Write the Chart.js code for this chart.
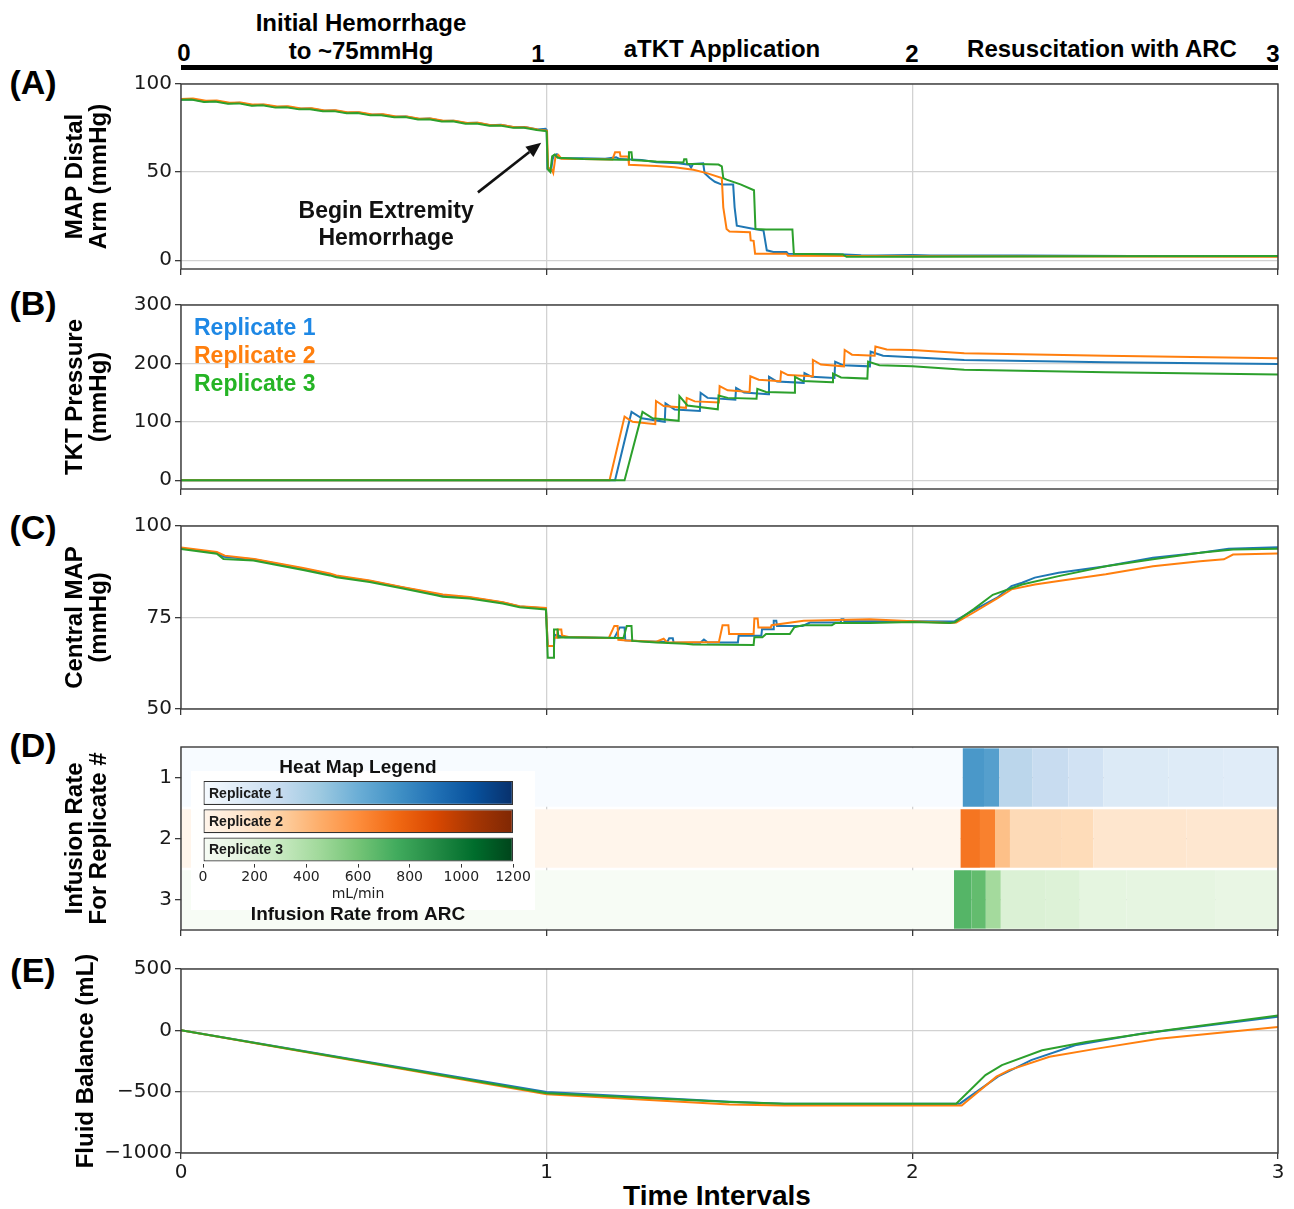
<!DOCTYPE html>
<html>
<head>
<meta charset="utf-8">
<script src="https://cdn.jsdelivr.net/npm/chart.js@4.4.1/dist/chart.umd.min.js"></script>
<style>
  html, body { margin: 0; padding: 0; background: #fff; }
  #page { position: relative; width: 1294px; height: 1209px; overflow: hidden; background: #fff;
          font-family: "Liberation Sans", Arial, sans-serif; }
  #page canvas { position: absolute; }
  .lbl { position: absolute; font-weight: bold; color: #000; white-space: nowrap; line-height: 1;
         transform: translate(-50%, -50%); }
  .bar { position: absolute; background: #000; }
</style>
</head>
<body>
<div id="page">
  <!-- phase banner -->
  <div class="bar" style="left:181px; top:65px; width:1097px; height:5px;"></div>
  <div class="lbl" style="left:361px; top:23px; font-size:24px;">Initial Hemorrhage</div>
  <div class="lbl" style="left:361px; top:51px; font-size:24px;">to ~75mmHg</div>
  <div class="lbl" style="left:722px; top:49px; font-size:24px;">aTKT Application</div>
  <div class="lbl" style="left:1102px; top:49px; font-size:24px;">Resuscitation with ARC</div>
  <div class="lbl" style="left:184px; top:53px; font-size:24px;">0</div>
  <div class="lbl" style="left:538px; top:54px; font-size:24px;">1</div>
  <div class="lbl" style="left:912px; top:54px; font-size:24px;">2</div>
  <div class="lbl" style="left:1273px; top:54px; font-size:24px;">3</div>
  <!-- panel letters -->
  <div class="lbl" style="left:33px; top:82px; font-size:34px;">(A)</div>
  <div class="lbl" style="left:33px; top:303px; font-size:34px;">(B)</div>
  <div class="lbl" style="left:33px; top:527px; font-size:34px;">(C)</div>
  <div class="lbl" style="left:33px; top:745px; font-size:34px;">(D)</div>
  <div class="lbl" style="left:33px; top:970px; font-size:34px;">(E)</div>
  <!-- shared time axis title -->
  <div class="lbl" style="left:717px; top:1196px; font-size:28px;">Time Intervals</div>
</div>
<script>
// ---------------- values ----------------
const timeTicks = [0, 1, 2, 3];
const mapDistalTicks = [0, 50, 100];
const tktTicks = [0, 100, 200, 300];
const centralTicks = [50, 75, 100];
const fluidTicks = [-1000, -500, 0, 500];
const replicateRows = ['1', '2', '3'];
const replicateNames = ['Replicate 1', 'Replicate 2', 'Replicate 3'];
const colorbarTicks = [0, 200, 400, 600, 800, 1000, 1200];

// (A) MAP distal arm, mmHg : [time interval, value]
const mapDistalRep1 = [[0,91.2],[0.03,91.4],[0.065,90.1],[0.095,90.3],[0.13,89.1],[0.16,89.3],[0.195,88.0],[0.225,88.2],[0.26,86.9],[0.29,87.1],[0.325,85.9],[0.355,86.1],[0.39,84.8],[0.42,85.0],[0.455,83.7],[0.485,83.8],[0.52,82.5],[0.55,82.7],[0.585,81.4],[0.615,81.5],[0.65,80.2],[0.68,80.4],[0.715,79.0],[0.745,79.2],[0.78,77.8],[0.81,78.0],[0.845,76.6],[0.875,76.8],[0.91,75.4],[0.94,75.6],[0.975,74.2],[0.997,74.6],
  [1.0,74.0],[1.002,52.0],[1.012,50.8],[1.016,57.0],[1.02,59.5],[1.028,60.2],[1.036,57.8],[1.1,57.9],[1.16,57.6],[1.19,58.4],[1.2,57.4],[1.26,56.8],[1.3,55.6],[1.36,55.0],[1.39,54.2],[1.395,52.5],[1.4,54.6],[1.428,55.0],[1.432,49.4],[1.446,46.6],[1.46,44.5],[1.479,42.9],[1.51,42.9],[1.514,30.0],[1.52,19.6],[1.56,18.0],[1.593,16.8],[1.602,5.6],[1.62,4.7],[1.656,4.7],[1.66,3.7],[1.8,3.4],[1.86,2.8],[1.9,2.6],[2.0,2.9],[2.05,2.7],[2.3,2.6],[2.6,2.4],[3.0,2.3]];
const mapDistalRep2 = [[0,91.5],[0.033,91.7],[0.068,90.5],[0.098,90.6],[0.133,89.4],[0.163,89.5],[0.198,88.3],[0.228,88.4],[0.263,87.2],[0.293,87.3],[0.328,86.1],[0.358,86.2],[0.393,85.0],[0.423,85.1],[0.458,83.9],[0.488,84.0],[0.523,82.7],[0.553,82.8],[0.588,81.5],[0.618,81.6],[0.653,80.3],[0.683,80.4],[0.718,79.1],[0.748,79.2],[0.783,77.9],[0.813,78.0],[0.848,76.6],[0.878,76.7],[0.913,75.4],[0.943,75.4],[0.978,74.0],[0.998,73.6],
  [1.001,73.4],[1.004,52.5],[1.014,51.5],[1.018,49.5],[1.024,58.5],[1.032,59.8],[1.04,57.6],[1.1,57.4],[1.18,57.2],[1.187,61.2],[1.2,61.2],[1.202,58.8],[1.223,58.8],[1.225,54.1],[1.3,53.4],[1.35,52.8],[1.401,51.3],[1.438,49.4],[1.479,46.6],[1.483,30.0],[1.492,17.7],[1.5,16.3],[1.556,15.9],[1.558,11.2],[1.566,11.0],[1.57,3.7],[1.656,3.6],[1.66,2.5],[1.86,2.4],[2.0,2.2],[2.5,2.1],[3.0,2.0]];
const mapDistalRep3 = [[0,91.0],[0.028,91.2],[0.063,89.8],[0.093,90.0],[0.128,88.8],[0.158,89.0],[0.193,87.7],[0.223,87.9],[0.258,86.6],[0.288,86.8],[0.323,85.6],[0.353,85.7],[0.388,84.5],[0.418,84.6],[0.453,83.4],[0.483,83.5],[0.518,82.2],[0.548,82.3],[0.583,81.1],[0.613,81.2],[0.648,79.9],[0.678,80.0],[0.713,78.7],[0.743,78.8],[0.778,77.5],[0.808,77.6],[0.843,76.3],[0.873,76.4],[0.908,75.1],[0.938,75.2],[0.973,73.9],[0.996,73.3],
  [1.0,73.0],[1.003,51.5],[1.01,50.0],[1.015,59.0],[1.022,60.0],[1.03,58.2],[1.1,57.5],[1.2,57.0],[1.223,57.0],[1.225,61.2],[1.232,61.2],[1.234,56.9],[1.3,56.0],[1.374,55.5],[1.376,57.3],[1.382,57.3],[1.384,54.7],[1.47,54.3],[1.479,53.2],[1.483,46.6],[1.492,45.7],[1.53,43.0],[1.567,39.7],[1.571,17.7],[1.6,17.4],[1.672,17.4],[1.676,3.7],[1.81,3.3],[1.82,1.9],[1.9,1.9],[2.0,2.0],[2.5,2.3],[3.0,2.4]];

// (B) TKT pressure, mmHg
const tktRep1 = [[0,0],[1.187,0],[1.232,117],[1.26,106],[1.323,100],[1.325,131.6],[1.35,121],[1.419,118.6],[1.421,149.7],[1.44,141],[1.516,138],[1.518,158],[1.54,150],[1.606,147],[1.608,177],[1.63,169],[1.703,166.7],[1.705,183.6],[1.725,177],[1.787,175],[1.789,203],[1.81,197],[1.884,195],[1.886,220],[1.92,213],[2.0,210.7],[2.142,206],[2.529,202],[3.0,199]];
const tktRep2 = [[0,0],[1.172,0],[1.213,109],[1.235,100],[1.297,96],[1.299,135.6],[1.32,127],[1.381,124],[1.383,141],[1.405,135],[1.471,133],[1.473,161],[1.495,154],[1.555,151],[1.557,178],[1.58,172],[1.639,169.5],[1.641,186],[1.66,180],[1.726,178],[1.728,206],[1.75,198],[1.813,195],[1.815,223],[1.835,215],[1.897,213],[1.899,229],[1.93,224],[2.0,223],[2.142,217.5],[2.529,213],[3.0,209]];
const tktRep3 = [[0,0],[1.213,0],[1.262,117],[1.29,106],[1.361,101.7],[1.363,144],[1.385,128],[1.468,121.5],[1.47,145],[1.495,141],[1.574,139.5],[1.576,156.5],[1.6,151],[1.677,149.7],[1.679,177],[1.7,170],[1.781,167.8],[1.783,182.5],[1.805,176],[1.877,174],[1.879,203],[1.91,197],[2.0,195],[2.142,189],[2.529,185],[3.0,181]];

// (C) central MAP, mmHg
const centralRep1 = [[0,93.9],[0.098,92.7],[0.116,91.6],[0.198,90.9],[0.334,88.3],[0.407,86.8],[0.425,86.3],[0.516,85.0],[0.607,83.2],[0.698,81.4],[0.716,81.1],[0.789,80.5],[0.88,79.1],[0.926,78.0],[0.998,77.5],
  [1.003,67.2],[1.02,67.2],[1.022,70.3],[1.05,69.6],[1.185,69.4],[1.2,72.3],[1.213,72.3],[1.215,68.8],[1.26,68.5],[1.33,68.3],[1.335,69.3],[1.345,69.3],[1.347,68.2],[1.42,68.1],[1.43,69.0],[1.44,68.2],[1.523,68.2],[1.525,70.0],[1.587,70.0],[1.589,71.8],[1.619,71.8],[1.621,74.1],[1.628,74.1],[1.63,72.7],[1.7,72.7],[1.72,73.6],[1.804,73.6],[1.806,74.5],[1.812,74.5],[1.814,74.0],[2.0,74.0],[2.1,73.9],[2.116,74.0],[2.168,77.0],[2.232,80.4],[2.271,83.6],[2.3,84.5],[2.335,85.9],[2.4,87.2],[2.529,89.0],[2.658,91.3],[2.787,92.7],[2.865,93.8],[3.0,94.2]];
const centralRep2 = [[0,94.1],[0.098,92.9],[0.12,91.9],[0.2,91.0],[0.334,88.5],[0.407,87.0],[0.425,86.5],[0.516,85.1],[0.607,83.3],[0.698,81.6],[0.716,81.3],[0.789,80.6],[0.88,79.2],[0.926,78.1],[0.998,77.6],
  [1.003,67.2],[1.018,67.2],[1.02,69.5],[1.028,69.5],[1.03,71.7],[1.04,71.7],[1.042,70.1],[1.06,69.7],[1.17,69.4],[1.185,72.7],[1.194,72.7],[1.196,68.9],[1.219,68.7],[1.3,68.4],[1.32,69.2],[1.33,68.2],[1.471,68.3],[1.481,72.9],[1.497,72.9],[1.499,70.5],[1.566,70.5],[1.568,74.7],[1.577,74.7],[1.579,72.3],[1.613,72.3],[1.615,72.9],[1.703,74.1],[1.884,74.5],[2.0,74.0],[2.103,73.5],[2.12,73.6],[2.17,76.5],[2.232,80.2],[2.271,82.7],[2.335,84.0],[2.4,85.0],[2.529,86.8],[2.658,89.0],[2.787,90.4],[2.852,90.9],[2.877,92.2],[3.0,92.5]];
const centralRep3 = [[0,93.7],[0.098,92.4],[0.116,91.0],[0.198,90.6],[0.334,88.0],[0.407,86.5],[0.425,86.0],[0.516,84.7],[0.607,82.9],[0.698,81.1],[0.716,80.7],[0.789,80.2],[0.88,78.8],[0.926,77.8],[0.998,77.2],
  [1.003,64.0],[1.018,64.0],[1.02,71.7],[1.03,71.7],[1.032,69.5],[1.05,69.6],[1.21,69.4],[1.219,72.7],[1.232,72.7],[1.234,68.6],[1.3,68.2],[1.38,67.8],[1.4,67.6],[1.566,67.5],[1.568,69.6],[1.59,69.6],[1.6,70.5],[1.665,70.5],[1.677,72.3],[1.7,72.9],[1.78,72.9],[1.79,73.5],[1.884,73.5],[2.0,73.8],[2.103,73.5],[2.116,73.7],[2.168,77.3],[2.22,81.2],[2.3,84.0],[2.4,86.3],[2.529,89.0],[2.658,90.9],[2.787,92.7],[2.877,93.6],[3.0,93.8]];

// (D) infusion rate from ARC, mL/min : [start, end, rate]
const infusionRep1 = [[0,2.138,0],[2.138,2.196,720],[2.196,2.238,680],[2.238,2.329,340],[2.329,2.427,290],[2.427,2.523,230],[2.523,2.7,160],[2.7,2.85,150],[2.85,3.0,140]];
const infusionRep2 = [[0,2.132,0],[2.132,2.185,700],[2.185,2.226,650],[2.226,2.267,370],[2.267,2.409,230],[2.409,2.495,220],[2.495,2.75,150],[2.75,3.0,140]];
const infusionRep3 = [[0,2.114,0],[2.114,2.162,690],[2.162,2.201,650],[2.201,2.242,440],[2.242,2.365,200],[2.365,2.458,190],[2.458,2.585,150],[2.585,2.83,140],[2.83,3.0,120]];

// (E) fluid balance, mL
const fluidRep1 = [[0,0],[0.5,-252],[1.0,-502],[1.5,-582],[1.65,-598],[2.13,-598],[2.235,-375],[2.27,-324],[2.325,-243],[2.445,-122],[2.625,-27],[3.0,110]];
const fluidRep2 = [[0,0],[0.5,-260],[1.0,-522],[1.5,-605],[1.65,-612],[2.135,-612],[2.23,-378],[2.265,-324],[2.375,-216],[2.505,-149],[2.675,-68],[3.0,27]];
const fluidRep3 = [[0,0],[0.5,-256],[1.0,-512],[1.5,-585],[1.65,-598],[2.12,-598],[2.2,-365],[2.245,-284],[2.355,-162],[2.475,-95],[2.695,0],[3.0,122]];

// ---------------- styling ----------------
const lineColors = ['#1f77b4', '#ff7f0e', '#2ca02c'];
const legendTextColors = ['#1e88e5', '#ff7f0e', '#25b425'];
const blues   = ['#f7fbff','#deebf7','#c6dbef','#9ecae1','#6baed6','#4292c6','#2171b5','#08519c','#08306b'];
const oranges = ['#fff5eb','#fee6ce','#fdd0a2','#fdae6b','#fd8d3c','#f16913','#d94801','#a63603','#7f2704'];
const greens  = ['#f7fcf5','#e5f5e0','#c7e9c0','#a1d99b','#74c476','#41ab5d','#238b45','#006d2c','#00441b'];
const palettes = [blues, oranges, greens];
const RATE_MAX = 1200;

const PLOT_LEFT = 181, PLOT_RIGHT = 1278, PAGE_W = 1294;
const GRID = '#d2d2d2', AXIS = '#3a3a3a', TEXT = '#1a1a1a';
const tickFont = { family: 'DejaVu Sans', size: 20 };
const titleFont = { family: 'Liberation Sans', weight: 'bold', size: 24, lineHeight: 1.02 };

Chart.defaults.font.family = 'DejaVu Sans';
Chart.defaults.color = TEXT;

function hexRgb(h) { return [1, 3, 5].map(i => parseInt(h.substr(i, 2), 16)); }
function cmap(pal, f) {
  f = Math.max(0, Math.min(1, f));
  const p = f * (pal.length - 1), i = Math.min(Math.floor(p), pal.length - 2), u = p - i;
  const a = hexRgb(pal[i]), b = hexRgb(pal[i + 1]);
  return 'rgb(' + a.map((c, k) => Math.round(c + (b[k] - c) * u)).join(',') + ')';
}
const minus = v => String(v).replace('-', '\u2212');
const pts = arr => arr.map(([x, y]) => ({ x, y }));

// axes box drawn on all four sides
const frame = {
  id: 'frame',
  afterDraw(chart) {
    const { ctx, chartArea: a } = chart;
    ctx.save();
    ctx.strokeStyle = AXIS; ctx.lineWidth = 1.4;
    ctx.strokeRect(a.left, a.top, a.right - a.left, a.bottom - a.top);
    ctx.restore();
  }
};

function makeCanvas(left, top, w, h) {
  const c = document.createElement('canvas');
  c.width = w; c.height = h;
  c.style.left = left + 'px'; c.style.top = top + 'px';
  c.style.width = w + 'px'; c.style.height = h + 'px';
  document.getElementById('page').appendChild(c);
  return c;
}

const PAD_TOP = 16;
function xScale(axisH, showLabels, z) {
  return {
    type: 'linear', min: 0, max: 3, z: z || 0,
    afterBuildTicks: s => { s.ticks = timeTicks.map(v => ({ value: v })); },
    afterFit: s => { s.height = axisH; },
    grid: { color: GRID, lineWidth: 1.3, tickLength: 6, tickColor: AXIS, tickWidth: 1.3 },
    border: { display: false },
    ticks: { display: showLabels, font: tickFont, color: TEXT, padding: 2, maxRotation: 0, autoSkip: false,
             callback: v => String(v) },
    title: { display: false }
  };
}

function linePanel(o) {
  const h = PAD_TOP + (o.bottom - o.top) + o.axisH;
  const c = makeCanvas(0, o.top - PAD_TOP, PAGE_W, h);
  return new Chart(c, {
    type: 'line',
    data: {
      // replicate 3 is drawn last, on top
      datasets: o.series.map((s, i) => ({
        label: replicateNames[i], data: pts(s), borderColor: lineColors[i], order: o.series.length - 1 - i,
        borderWidth: 2, pointRadius: 0, fill: false, tension: 0
      }))
    },
    options: {
      responsive: false, animation: false, devicePixelRatio: 1, events: [],
      layout: { padding: { left: o.padLeft, right: PAGE_W - PLOT_RIGHT, top: PAD_TOP, bottom: 0 } },
      plugins: { legend: { display: false }, tooltip: { enabled: false } },
      scales: {
        x: xScale(o.axisH, !!o.xLabels),
        y: {
          type: 'linear', min: o.yMin, max: o.yMax,
          afterBuildTicks: s => { s.ticks = o.yTicks.map(v => ({ value: v })); },
          afterFit: s => { s.width = PLOT_LEFT - o.padLeft; },
          grid: { color: GRID, lineWidth: 1.3, tickLength: 6, tickColor: AXIS, tickWidth: 1.3 },
          border: { display: false },
          ticks: { font: tickFont, color: TEXT, padding: 3, callback: v => minus(v) },
          title: { display: true, text: o.yTitle, color: '#000', padding: 0, font: titleFont }
        }
      }
    },
    plugins: [frame].concat(o.plugins || [])
  });
}

// (A) arrow annotation
const hemorrhageNote = {
  id: 'hemorrhageNote',
  afterDatasetsDraw(chart) {
    const { ctx, scales: { x, y } } = chart;
    const tx = x.getPixelForValue(0.561);
    ctx.save();
    ctx.fillStyle = '#111';
    ctx.font = 'bold 23px "Liberation Sans"';
    ctx.textAlign = 'center'; ctx.textBaseline = 'middle';
    ctx.fillText('Begin Extremity', tx, y.getPixelForValue(27.6));
    ctx.fillText('Hemorrhage', tx, y.getPixelForValue(12.4));
    const x0 = x.getPixelForValue(0.812), y0 = y.getPixelForValue(38.5);
    const x1 = x.getPixelForValue(0.985), y1 = y.getPixelForValue(66.7);
    const ang = Math.atan2(y1 - y0, x1 - x0), head = 15, half = 6.5;
    const bx = x1 - head * Math.cos(ang), by = y1 - head * Math.sin(ang);
    ctx.strokeStyle = '#111'; ctx.lineWidth = 2.6;
    ctx.beginPath(); ctx.moveTo(x0, y0); ctx.lineTo(bx, by); ctx.stroke();
    ctx.beginPath();
    ctx.moveTo(x1, y1);
    ctx.lineTo(bx + half * Math.sin(ang), by - half * Math.cos(ang));
    ctx.lineTo(bx - half * Math.sin(ang), by + half * Math.cos(ang));
    ctx.closePath(); ctx.fill();
    ctx.restore();
  }
};

// (B) coloured replicate key
const replicateKey = {
  id: 'replicateKey',
  afterDraw(chart) {
    const { ctx, chartArea: a } = chart;
    ctx.save();
    ctx.font = 'bold 23px "Liberation Sans"';
    ctx.textBaseline = 'middle';
    replicateNames.forEach((n, i) => {
      ctx.fillStyle = legendTextColors[i];
      ctx.fillText(n, a.left + 13, a.top + 24 + i * 28);
    });
    ctx.restore();
  }
};

linePanel({ top: 84, bottom: 270, axisH: 14, padLeft: 63, yMin: -5, yMax: 100, yTicks: mapDistalTicks,
  yTitle: ['MAP Distal', 'Arm (mmHg)'], series: [mapDistalRep1, mapDistalRep2, mapDistalRep3], plugins: [hemorrhageNote] });
linePanel({ top: 305, bottom: 490, axisH: 14, padLeft: 63, yMin: -15, yMax: 300, yTicks: tktTicks,
  yTitle: ['TKT Pressure', '(mmHg)'], series: [tktRep1, tktRep2, tktRep3], plugins: [replicateKey] });
linePanel({ top: 526, bottom: 710, axisH: 14, padLeft: 63, yMin: 50, yMax: 100, yTicks: centralTicks,
  yTitle: ['Central MAP', '(mmHg)'], series: [centralRep1, centralRep2, centralRep3] });

// (D) heat map of infusion rate per replicate
(function () {
  const top = 747, bottom = 931, axisH = 14, padLeft = 63;
  const c = makeCanvas(0, top - PAD_TOP, PAGE_W, PAD_TOP + (bottom - top) + axisH);
  const rows = [infusionRep1, infusionRep2, infusionRep3];
  new Chart(c, {
    type: 'bar',
    data: {
      labels: replicateRows,
      datasets: rows.map((segs, i) => ({
        label: replicateNames[i],
        data: segs.map(([a, b, r]) => ({ x: [a, b], y: replicateRows[i], rate: r })),
        backgroundColor: ctx => cmap(palettes[i], (ctx.raw ? ctx.raw.rate : 0) / RATE_MAX),
        borderWidth: 0, borderSkipped: false,
        barPercentage: 0.955, categoryPercentage: 1, grouped: false
      }))
    },
    options: {
      indexAxis: 'y', responsive: false, animation: false, devicePixelRatio: 1, events: [],
      layout: { padding: { left: padLeft, right: PAGE_W - PLOT_RIGHT, top: PAD_TOP, bottom: 0 } },
      plugins: { legend: { display: false }, tooltip: { enabled: false } },
      scales: {
        x: xScale(axisH, false, 1),
        y: {
          type: 'category', offset: true, z: 1,
          afterFit: s => { s.width = PLOT_LEFT - padLeft; },
          grid: { offset: false, color: 'rgba(150,150,150,0.55)', lineWidth: 1.3, tickLength: 6, tickColor: AXIS, tickWidth: 1.3 },
          border: { display: false },
          ticks: { font: tickFont, color: TEXT, padding: 3 },
          title: { display: true, text: ['Infusion Rate', 'For Replicate #'], color: '#000', padding: 0, font: titleFont }
        }
      }
    },
    plugins: [frame]
  });
})();

// (E) fluid balance with the time axis labels
linePanel({ top: 969, bottom: 1153, axisH: 56, padLeft: 74, yMin: -1000, yMax: 500, yTicks: fluidTicks,
  yTitle: 'Fluid Balance (mL)', series: [fluidRep1, fluidRep2, fluidRep3], xLabels: true });

// heat map colour key
(function () {
  const left = 185, top = 752, w = 360, h = 176;
  const c = makeCanvas(left, top, w, h);
  const keyBox = {
    id: 'keyBox',
    beforeDraw(chart) {
      const ctx = chart.ctx;
      ctx.save();
      ctx.fillStyle = 'rgba(255,255,255,0.93)';
      ctx.fillRect(6, 19, 344, 139);
      ctx.restore();
    }
  };
  const keyNames = {
    id: 'keyNames',
    afterDatasetsDraw(chart) {
      const { ctx, chartArea: a, scales: { y } } = chart;
      ctx.save();
      ctx.font = 'bold 14px "Liberation Sans"';
      ctx.fillStyle = '#1a1a1a'; ctx.textBaseline = 'middle';
      replicateNames.forEach((n, i) => ctx.fillText(n, a.left + 6, y.getPixelForValue(i) + 1));
      ctx.restore();
    }
  };
  new Chart(c, {
    type: 'bar',
    data: {
      labels: replicateNames,
      datasets: [{
        data: replicateNames.map(() => [colorbarTicks[0], colorbarTicks[colorbarTicks.length - 1]]),
        backgroundColor: ctx => {
          const a = ctx.chart.chartArea;
          const pal = palettes[ctx.dataIndex] || blues;
          if (!a) return pal[4];
          const g = ctx.chart.ctx.createLinearGradient(a.left, 0, a.right, 0);
          pal.forEach((col, k) => g.addColorStop(k / (pal.length - 1), col));
          return g;
        },
        borderColor: '#333', borderWidth: 1.2, borderSkipped: false,
        barPercentage: 0.85, categoryPercentage: 1
      }]
    },
    options: {
      indexAxis: 'y', responsive: false, animation: false, devicePixelRatio: 1, events: [],
      layout: { padding: { left: 18, right: w - (513 - left), top: 0, bottom: 0 } },
      plugins: {
        legend: { display: false }, tooltip: { enabled: false },
        title: { display: true, text: 'Heat Map Legend', color: '#111', padding: { top: 4, bottom: 0 },
                 font: { family: 'Liberation Sans', weight: 'bold', size: 19 } },
        subtitle: { display: true, position: 'bottom', text: 'Infusion Rate from ARC', color: '#111',
                    padding: { top: 0, bottom: 2 }, font: { family: 'Liberation Sans', weight: 'bold', size: 19 } }
      },
      scales: {
        x: {
          type: 'linear', min: colorbarTicks[0], max: colorbarTicks[colorbarTicks.length - 1],
          afterBuildTicks: s => { s.ticks = colorbarTicks.map(v => ({ value: v })); },
          grid: { drawOnChartArea: false, tickLength: 4, color: '#333' },
          border: { display: false },
          ticks: { font: { family: 'DejaVu Sans', size: 14 }, color: '#222', padding: 1, maxRotation: 0, autoSkip: false,
                   callback: v => String(v) },
          title: { display: true, text: 'mL/min', color: '#222', padding: 0, font: { family: 'DejaVu Sans', size: 14 } }
        },
        y: { display: false }
      }
    },
    plugins: [keyBox, keyNames]
  });
})();
</script>
</body>
</html>
